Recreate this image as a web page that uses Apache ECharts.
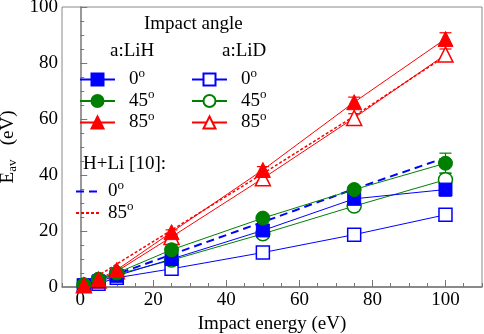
<!DOCTYPE html>
<html>
<head>
<meta charset="utf-8">
<script src="https://cdn.jsdelivr.net/npm/echarts@6/dist/echarts.min.js"></script>
<style>
  html, body { margin: 0; padding: 0; background: #fff; }
  #chart { width: 484px; height: 334px; }
</style>
</head>
<body>
<div id="chart"></div>
<script>
// impact energies (eV)
var energies = [1, 5, 10, 25, 50, 75, 100];
// a:LiH (filled symbols)
var lihA0 = [0.6, 2.0, 4.0, 10.0, 20.2, 31.5, 34.8];
var lihA45 = [0.8, 2.8, 5.0, 13.3, 24.6, 34.8, 44.2];
var lihA85 = [0.7, 2.8, 6.1, 19.6, 41.8, 66.0, 88.6];
// a:LiD (open symbols)
var lidA0 = [0.5, 1.2, 3.3, 6.5, 12.3, 18.7, 25.8];
var lidA45 = [0.6, 2.5, 4.5, 9.6, 19.0, 28.9, 38.3];
var lidA85 = [0.6, 2.3, 5.6, 17.9, 38.8, 60.4, 83.0];
// H+Li [10]
var hliA0 = [0.5, 2.3, 4.6, 11.6, 23.2, 35.0, 46.2];
var hliA85 = [0.8, 4.1, 8.2, 20.3, 40.5, 61.0, 82.5];
// error bar half widths
var errLiH0 = [0, 0, 0, 0.5, 1.0, 1.5, 2.3];
var errLiH45 = [0, 0, 0, 0.5, 1.0, 1.3, 3.6];
var errLiH85 = [0, 0, 0, 0.8, 1.2, 1.8, 2.2];
var errLiD45 = [0, 0, 0, 0.4, 0.8, 1.2, 2.4];
var errLiD85 = [0, 0, 0, 0.6, 1.0, 1.5, 2.0];
// axis ticks
var xMajor = [0, 20, 40, 60, 80, 100];
var xMinor = [-5, 5, 10, 15, 25, 30, 35, 45, 50, 55, 65, 70, 75, 85, 90, 95, 105, 110];

var BLUE = '#0000ff', GREEN = '#008000', RED = '#ff0000';
var FONT = '"Liberation Serif", "Times New Roman", serif';
var angleText = {
  'LiH 0': '0', 'LiH 45': '45', 'LiH 85': '85',
  'LiD 0': '0', 'LiD 45': '45', 'LiD 85': '85',
  'H+Li 0': '0', 'H+Li 85': '85'
};

function pairs(vals) {
  return energies.map(function (x, i) { return [x, vals[i]]; });
}

function errData(vals, errs) {
  var out = [];
  energies.forEach(function (x, i) {
    if (errs[i] > 0) out.push([x, vals[i] - errs[i], vals[i] + errs[i]]);
  });
  return out;
}

function errSeries(vals, errs, color) {
  return {
    type: 'custom',
    silent: true,
    z: 1,
    data: errData(vals, errs),
    encode: { x: 0, y: [1, 2] },
    renderItem: function (params, api) {
      var lo = api.coord([api.value(0), api.value(1)]);
      var hi = api.coord([api.value(0), api.value(2)]);
      var w = 6;
      var st = { stroke: color, lineWidth: 1.2 };
      return {
        type: 'group',
        children: [
          { type: 'line', shape: { x1: lo[0], y1: lo[1], x2: hi[0], y2: hi[1] }, style: st },
          { type: 'line', shape: { x1: lo[0] - w, y1: lo[1], x2: lo[0] + w, y2: lo[1] }, style: st },
          { type: 'line', shape: { x1: hi[0] - w, y1: hi[1], x2: hi[0] + w, y2: hi[1] }, style: st }
        ]
      };
    }
  };
}

function markSeries(name, vals, color, symbol, size, filled) {
  return {
    name: name,
    type: 'line',
    z: 3,
    data: pairs(vals),
    symbol: symbol,
    symbolSize: size,
    showSymbol: true,
    lineStyle: { color: color, width: 1 },
    itemStyle: filled
      ? { color: color, borderColor: color, borderWidth: 1 }
      : { color: '#fff', borderColor: color, borderWidth: 1.5 },
    emphasis: { disabled: true }
  };
}

function refSeries(name, vals, color, dash, width) {
  return {
    name: name,
    type: 'line',
    z: 2,
    data: pairs(vals),
    showSymbol: false,
    symbol: 'none',
    lineStyle: { color: color, width: width, type: dash },
    itemStyle: { color: color },
    emphasis: { disabled: true }
  };
}

// digits sit at the bottom of a tall line, the "o" at its top -> superscript
function legendText(gap) {
  return {
    fontFamily: FONT,
    fontSize: 19,
    color: '#000',
    lineHeight: 25,
    rich: {
      n: { fontFamily: FONT, fontSize: 19, color: '#000', lineHeight: 25, verticalAlign: 'bottom', padding: [0, 0, 3, gap] },
      s: { fontFamily: FONT, fontSize: 13, color: '#000', verticalAlign: 'top' }
    }
  };
}

function legendFmt(name) {
  return '{n|' + angleText[name] + '}{s|o}';
}

var myChart = echarts.init(document.getElementById('chart'));
myChart.setOption({
  animation: false,
  backgroundColor: '#fff',
  textStyle: { fontFamily: FONT },
  grid: {
    left: 62, right: 2, top: 7, bottom: 47,
    outerBoundsMode: 'none',
    containLabel: false,
    show: true, borderColor: '#888', borderWidth: 1
  },
  xAxis: [
    {
      type: 'value', min: -5, max: 110,
      name: 'Impact energy (eV)',
      nameLocation: 'middle',
      nameGap: 21,
      nameTextStyle: { fontFamily: FONT, fontSize: 19, color: '#000' },
      axisLine: { show: true, lineStyle: { color: '#777', width: 1.5 } },
      axisTick: { show: true, inside: true, length: 7, customValues: xMajor, lineStyle: { color: '#777' } },
      axisLabel: { customValues: xMajor, fontFamily: FONT, fontSize: 19, color: '#000', margin: 4 },
      splitLine: { show: false }
    },
    {
      type: 'value', min: -5, max: 110, position: 'bottom',
      axisLine: { show: false },
      axisTick: { show: true, inside: true, length: 4, customValues: xMinor, lineStyle: { color: '#777' } },
      axisLabel: { show: false },
      splitLine: { show: false }
    }
  ],
  yAxis: {
    type: 'value', min: 0, max: 100, interval: 20,
    name: 'E{sub|av}   (eV)',
    nameLocation: 'middle',
    nameRotate: 90,
    nameGap: 32,
    nameTextStyle: {
      fontFamily: FONT, fontSize: 19, color: '#000',
      rich: { sub: { fontFamily: FONT, fontSize: 13, color: '#000', verticalAlign: 'bottom', padding: [8, 0, 0, 0] } }
    },
    axisLine: { show: true, lineStyle: { color: '#777', width: 1.5 } },
    axisTick: { show: true, inside: true, length: 7, lineStyle: { color: '#777' } },
    minorTick: { show: true, splitNumber: 4, length: 4, lineStyle: { color: '#777' } },
    axisLabel: { fontFamily: FONT, fontSize: 19, color: '#000', margin: 4 },
    splitLine: { show: false }
  },
  graphic: [
    { type: 'text', left: 144, top: 15, style: { text: 'Impact angle', font: '19px "Liberation Serif"', fill: '#000' } },
    { type: 'text', left: 110, top: 42, style: { text: 'a:LiH', font: '19px "Liberation Serif"', fill: '#000' } },
    { type: 'text', left: 222, top: 42, style: { text: 'a:LiD', font: '19px "Liberation Serif"', fill: '#000' } },
    { type: 'text', left: 83, top: 155, style: { text: 'H+Li [10]:', font: '19px "Liberation Serif"', fill: '#000' } }
  ],
  legend: [
    {
      orient: 'vertical', left: 79, top: 67, padding: 0, itemWidth: 35, itemHeight: 15, itemGap: -3.5,
      data: ['LiH 0', 'LiH 45', 'LiH 85'],
      formatter: legendFmt, textStyle: legendText(9), selectedMode: false
    },
    {
      orient: 'vertical', left: 191, top: 67, padding: 0, itemWidth: 35, itemHeight: 15, itemGap: -3.5,
      data: ['LiD 0', 'LiD 45', 'LiD 85'],
      formatter: legendFmt, textStyle: legendText(9), selectedMode: false
    },
    {
      orient: 'vertical', left: 75, top: 179, padding: 0, itemWidth: 24, itemHeight: 15, itemGap: -3.5,
      data: ['H+Li 0', 'H+Li 85'],
      itemStyle: { color: 'rgba(0,0,0,0)', borderColor: 'rgba(0,0,0,0)', borderWidth: 0 },
      formatter: legendFmt, textStyle: legendText(3), selectedMode: false
    }
  ],
  series: [
    errSeries(lihA0, errLiH0, BLUE),
    errSeries(lihA45, errLiH45, GREEN),
    errSeries(lihA85, errLiH85, RED),
    errSeries(lidA45, errLiD45, GREEN),
    errSeries(lidA85, errLiD85, RED),
    refSeries('H+Li 0', hliA0, BLUE, [8, 5], 2),
    refSeries('H+Li 85', hliA85, RED, [3, 2], 1.5),
    markSeries('LiD 0', lidA0, BLUE, 'rect', 13, false),
    markSeries('LiD 45', lidA45, GREEN, 'circle', 14, false),
    markSeries('LiD 85', lidA85, RED, 'triangle', 15, false),
    markSeries('LiH 0', lihA0, BLUE, 'rect', 13, true),
    markSeries('LiH 45', lihA45, GREEN, 'circle', 14, true),
    markSeries('LiH 85', lihA85, RED, 'triangle', 15, true)
  ]
});
</script>
</body>
</html>
